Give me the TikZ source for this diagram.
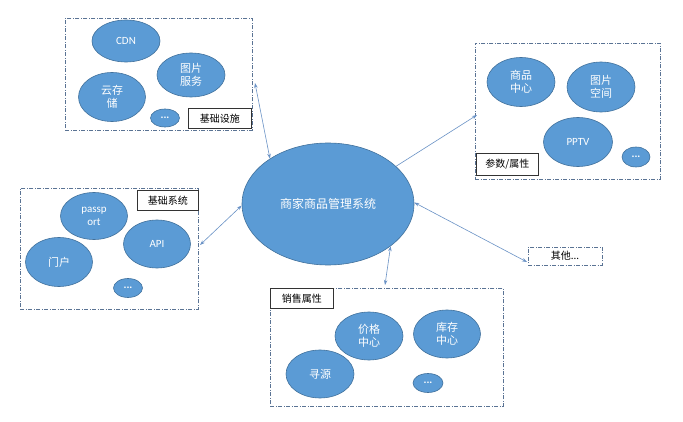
\documentclass[tikz,border=0pt]{standalone}
\usepackage{fontspec}
\setmainfont{Carlito}
\newfontfamily\cjk{Noto Sans CJK SC}
\usetikzlibrary{shapes.geometric,arrows.meta}
\definecolor{eblue}{HTML}{5B9BD5}
\definecolor{eline}{HTML}{41719C}
\definecolor{aline}{HTML}{6A92C6}
\definecolor{gframe}{HTML}{5A7394}
\begin{document}
\begin{tikzpicture}[x=1pt,y=-1pt,
 bub/.style={ellipse,fill=eblue,draw=eline,line width=0.6pt,inner sep=0pt,text=white,align=center,font=\fontsize{11}{13}\selectfont},
 grp/.style={draw=gframe,line width=0.6pt,dash pattern=on 4pt off 1.5pt on 1pt off 1.5pt,inner sep=0pt,anchor=north west},
 lbl/.style={draw=black!80,fill=white,line width=0.6pt,inner sep=0pt,anchor=north west,font=\cjk\fontsize{10}{12}\selectfont},
 conn/.style={draw=aline,line width=0.6pt},
 both/.style={{Stealth[length=5pt,width=3.5pt]}-{Stealth[length=5pt,width=3.5pt]}},
 one/.style={-{Stealth[length=5pt,width=3.5pt]}}
]
\useasboundingbox (0,0) rectangle (683,422);
\fill[white] (0,0) rectangle (683,422);

% main
\node[bub,minimum width=172pt,minimum height=122pt,font=\cjk\fontsize{12}{14}\selectfont] (main) at (328,204) {商家商品管理系统};

% top-left group
\node[grp,minimum width=187pt,minimum height=112pt] (gtl) at (65,18) {};
\node[bub,minimum width=68pt,minimum height=42pt] (cdn) at (126,41) {CDN};
\node[bub,minimum width=68pt,minimum height=44pt] (tpfw) at (191,75) {\cjk 图片\\\cjk 服务};
\node[bub,minimum width=67pt,minimum height=49pt] (ycc) at (112,97) {\cjk 云存\\\cjk 储};
\node[bub,minimum width=29pt,minimum height=18pt] (d1) at (165,118) {\textbf{...}};
\node[lbl,minimum width=63pt,minimum height=20pt] (l1) at (188,108) {基础设施};

% right group
\node[grp,minimum width=185pt,minimum height=136pt] (gr) at (475,43) {};
\node[bub,minimum width=68pt,minimum height=49pt] (spzx) at (521,82) {\cjk 商品\\\cjk 中心};
\node[bub,minimum width=68pt,minimum height=50pt] (tpkj) at (601,87) {\cjk 图片\\\cjk 空间};
\node[bub,minimum width=69pt,minimum height=49pt] (pptv) at (578,142) {PPTV};
\node[bub,minimum width=28pt,minimum height=20pt] (d2) at (636,157) {\textbf{...}};
\node[lbl,minimum width=62pt,minimum height=22pt] (l2) at (476,153) {参数/属性};

% left group
\node[grp,minimum width=178pt,minimum height=121pt] (gl) at (20,188) {};
\node[lbl,minimum width=61pt,minimum height=20pt] (l3) at (137,190) {基础系统};
\node[bub,minimum width=67pt,minimum height=47pt] (pass) at (94,216) {passp\\ort};
\node[bub,minimum width=67pt,minimum height=48pt] (api) at (157,244) {API};
\node[bub,minimum width=67pt,minimum height=49pt] (mh) at (59,262) {\cjk 门户};
\node[bub,minimum width=29pt,minimum height=19pt] (d3) at (128,288) {\textbf{...}};

% bottom group
\node[grp,minimum width=233pt,minimum height=118pt] (gb) at (270,288) {};
\node[lbl,minimum width=63pt,minimum height=20pt] (l4) at (270,288) {销售属性};
\node[bub,minimum width=68pt,minimum height=48pt] (jgzx) at (369,336) {\cjk 价格\\\cjk 中心};
\node[bub,minimum width=67pt,minimum height=48pt] (kczx) at (447,334) {\cjk 库存\\\cjk 中心};
\node[bub,minimum width=68pt,minimum height=48pt] (xy) at (320,374) {\cjk 寻源};
\node[bub,minimum width=30pt,minimum height=19pt] (d4) at (428,383) {\textbf{...}};

% other
\node[grp,anchor=center,minimum width=74pt,minimum height=18pt,font=\cjk\fontsize{10}{12}\selectfont] (oth) at (565,256) {其他...};

% connector ends
\coordinate (e1) at (255,83);
\coordinate (e2) at (477,115);
\coordinate (e3) at (200,245);
\coordinate (e4) at (527,262);
\coordinate (e5) at (385,285);

\draw[conn,both] (main.142) -- (e1);
\draw[conn,one] (main.29.5) -- (e2);
\draw[conn,both] (main.181) -- (e3);
\draw[conn,both] (main.1) -- (e4);
\draw[conn,both] (main.326) -- (e5);
\end{tikzpicture}
\end{document}
